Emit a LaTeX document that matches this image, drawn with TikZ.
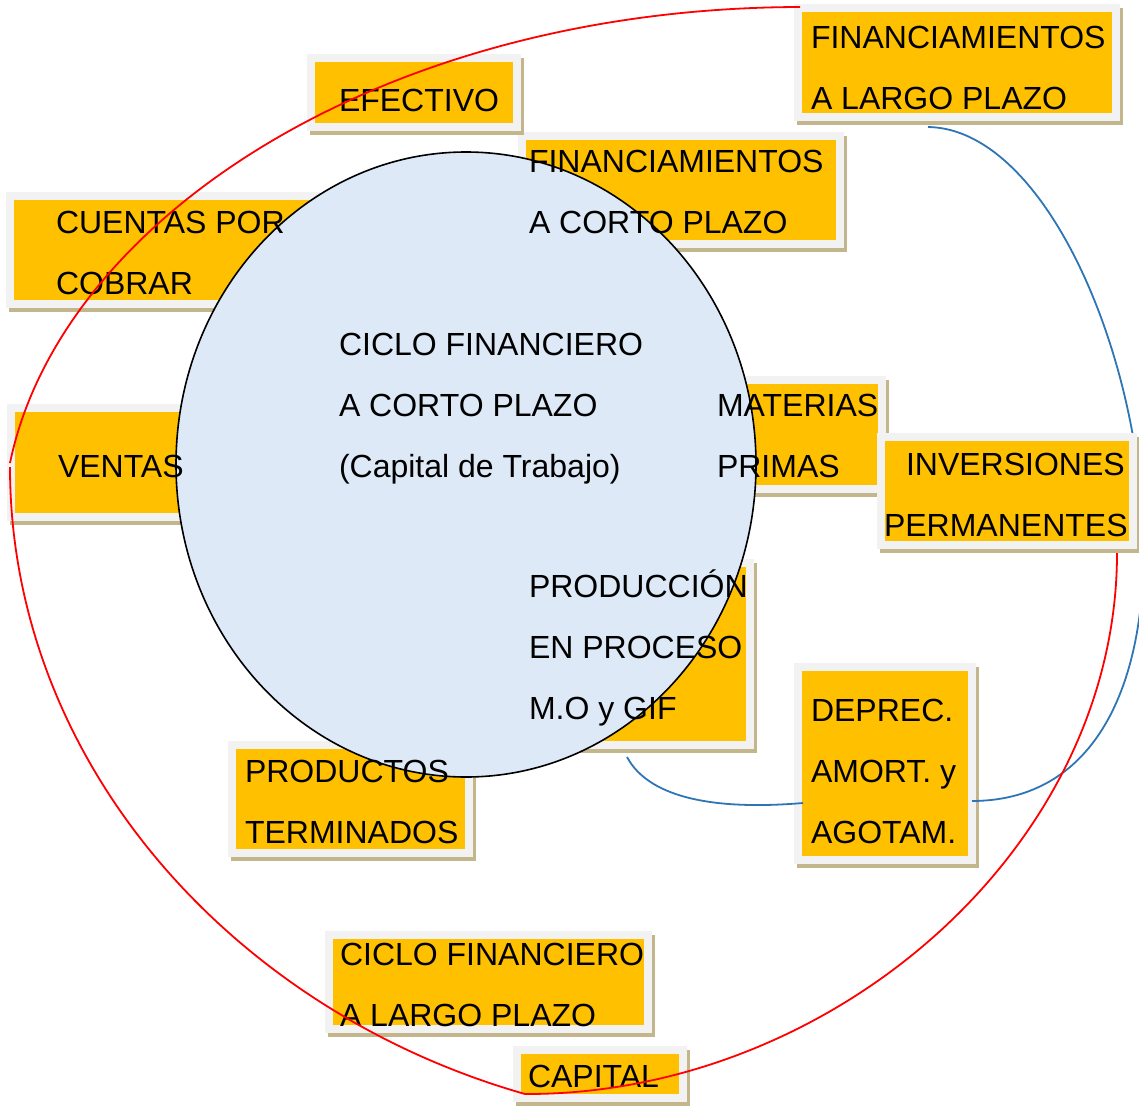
\documentclass[tikz,border=0pt]{standalone}
\usepackage{fontspec}
\setmainfont{Liberation Sans}
\usetikzlibrary{shapes.geometric}
\definecolor{boxorange}{RGB}{255,192,0}
\definecolor{framegray}{RGB}{242,242,242}
\definecolor{shadowtan}{RGB}{196,182,140}
\definecolor{circfill}{RGB}{221,233,246}
\definecolor{linkblue}{RGB}{46,117,182}
\tikzset{
  obox/.style={rectangle, fill=boxorange, draw=framegray, line width=8pt, inner sep=0pt, outer sep=0pt},
  lbl/.style={anchor=base west, inner sep=0pt, outer sep=0pt, font=\fontsize{32}{61}\selectfont},
  redline/.style={draw=red, line width=1.8pt},
  blueline/.style={draw=linkblue, line width=1.8pt},
  cyclestyle/.style={ellipse, draw=black, line width=1.6pt, fill=circfill, inner sep=0pt, outer sep=0pt}
}
% name, x1, y1, x2, y2 of the orange area
\newcommand\obx[5]{%
  \fill[shadowtan] ({#2-8+3},{#3-8+4}) rectangle ({#4+8+3},{#5+8+4});
  \node[obox, minimum width={#4-(#2)+8}, minimum height={#5-(#3)+8}] (#1) at ({(#2+#4)/2},{(#3+#5)/2}) {};}
\newcommand\stk[1]{\vtop{\baselineskip=61pt\lineskiplimit=-1000pt\lineskip=0pt #1}}
\begin{document}
\begin{tikzpicture}[x=1pt,y=-1pt]
\useasboundingbox (0,0) rectangle (1139,1105);
% boxes
\obx{cuentas}{14}{200}{312}{300}
\obx{ventas}{15}{412}{195}{513}
\obx{fincorto}{526}{140}{836}{240}
\obx{materias}{700}{384}{878}{485}
\obx{produccion}{540}{567}{746}{741}
\obx{productos}{236}{749}{465}{849}
\obx{efectivo}{315}{62}{513}{123}
\obx{finlargo}{802}{12}{1112}{113}
\obx{deprec}{802}{671}{968}{856}
\obx{ciclolargo}{333}{939}{644}{1025}
\obx{capital}{521}{1054}{679}{1094}
% blue connectors
\coordinate (b1) at (928,127);
\coordinate (b2) at (972,801);
\coordinate (b3) at (627,757);
\coordinate (b4) at (803,803);
\draw[blueline] (b1) .. controls (1130,130) and (1270,800) .. (b2);
\draw[blueline] (b3) .. controls (650,800) and (720,810) .. (b4);
\obx{inversiones}{885}{441}{1129}{541}
% central cycle
\node[cyclestyle, minimum width=580pt, minimum height=625pt] (ciclo) at (466,464.5) {};
% texts
\node[lbl] (tefectivo) at (339,111) {EFECTIVO};
\node[lbl] (tfinlargo) at (811,49) {\stk{\hbox{FINANCIAMIENTOS}\hbox{A LARGO PLAZO}}};
\node[lbl] (tfincorto) at (529,172) {\stk{\hbox{FINANCIAMIENTOS}\hbox{A CORTO PLAZO}}};
\node[lbl] (tcuentas) at (56,233) {\stk{\hbox{CUENTAS POR}\hbox{COBRAR}}};
\node[lbl] (tventas) at (58,477) {VENTAS};
\node[lbl] (tciclo) at (339,355) {\stk{\hbox{CICLO FINANCIERO}\hbox{A CORTO PLAZO}\hbox{(Capital de Trabajo)}}};
\node[lbl] (tmaterias) at (717,416) {\stk{\hbox{MATERIAS}\hbox{PRIMAS}}};
\node[lbl] (tinversiones) at (884,475) {\stk{\hbox{\kern22pt INVERSIONES}\hbox{PERMANENTES}}};
\node[lbl] (tproduccion) at (529,597) {\stk{\hbox{PRODUCCIÓN}\hbox{EN PROCESO}\hbox{M.O y GIF}}};
\node[lbl] (tdeprec) at (811,721) {\stk{\hbox{DEPREC.}\hbox{AMORT. y}\hbox{AGOTAM.}}};
\node[lbl] (tproductos) at (245,782) {\stk{\hbox{PRODUCTOS}\hbox{TERMINADOS}}};
\node[lbl] (tciclolargo) at (340,965) {\stk{\hbox{CICLO FINANCIERO}\hbox{A LARGO PLAZO}}};
\node[lbl] (tcapital) at (528,1087) {CAPITAL};
% red loop
\coordinate (r1) at (800,7);
\coordinate (r2) at (10,463);
\coordinate (r3) at (10,467);
\coordinate (r4) at (525,1094);
\coordinate (r5) at (1117,553);
\draw[redline] (r1) .. controls (380,8) and (60,220) .. (r2);
\draw[redline] (r3) .. controls (10,760) and (230,1010) .. (r4);
\draw[redline] (r4) .. controls (830,1095) and (1117,850) .. (r5);
\end{tikzpicture}
\end{document}
